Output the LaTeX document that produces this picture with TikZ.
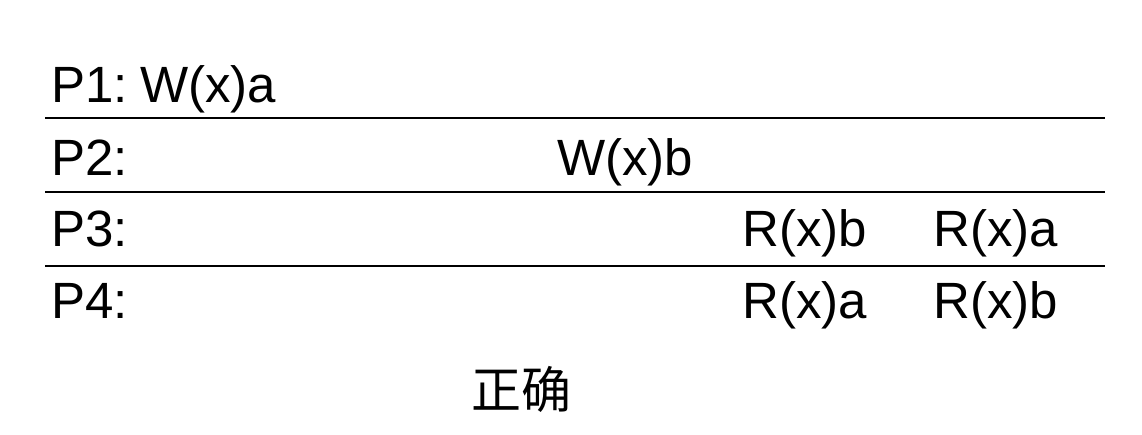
\documentclass[tikz,border=0pt]{standalone}
\usepackage{fontspec}
\setmainfont{Liberation Sans}
\newfontfamily\cjk{Noto Sans CJK SC}
\begin{document}
\begin{tikzpicture}[x=1pt,y=-1pt,
  lbl/.style={anchor=base west,inner sep=0pt,font=\fontsize{51}{56}\selectfont},
  sep/.style={line width=2pt,black}]
\useasboundingbox[fill=white] (0,0) rectangle (1142,434);
\node[lbl] (p1) at (51,102) {P1:};
\node[lbl] (w1) at (140,102) {W(x)a};
\node[lbl] (p2) at (51,175) {P2:};
\node[lbl] (w2) at (557,175) {W(x)b};
\node[lbl] (p3) at (51,246) {P3:};
\node[lbl] (r31) at (742,246) {R(x)b};
\node[lbl] (r32) at (933,246) {R(x)a};
\node[lbl] (p4) at (51,318) {P4:};
\node[lbl] (r41) at (742,318) {R(x)a};
\node[lbl] (r42) at (933,318) {R(x)b};
\coordinate (l1a) at (45,118); \coordinate (l1b) at (1105,118);
\coordinate (l2a) at (45,192); \coordinate (l2b) at (1105,192);
\coordinate (l3a) at (45,266); \coordinate (l3b) at (1105,266);
\draw[sep] (l1a) -- (l1b);
\draw[sep] (l2a) -- (l2b);
\draw[sep] (l3a) -- (l3b);
\node[inner sep=0pt,font=\cjk\fontsize{50}{56}\selectfont] (ok) at (521,389) {正确};
\end{tikzpicture}
\end{document}
